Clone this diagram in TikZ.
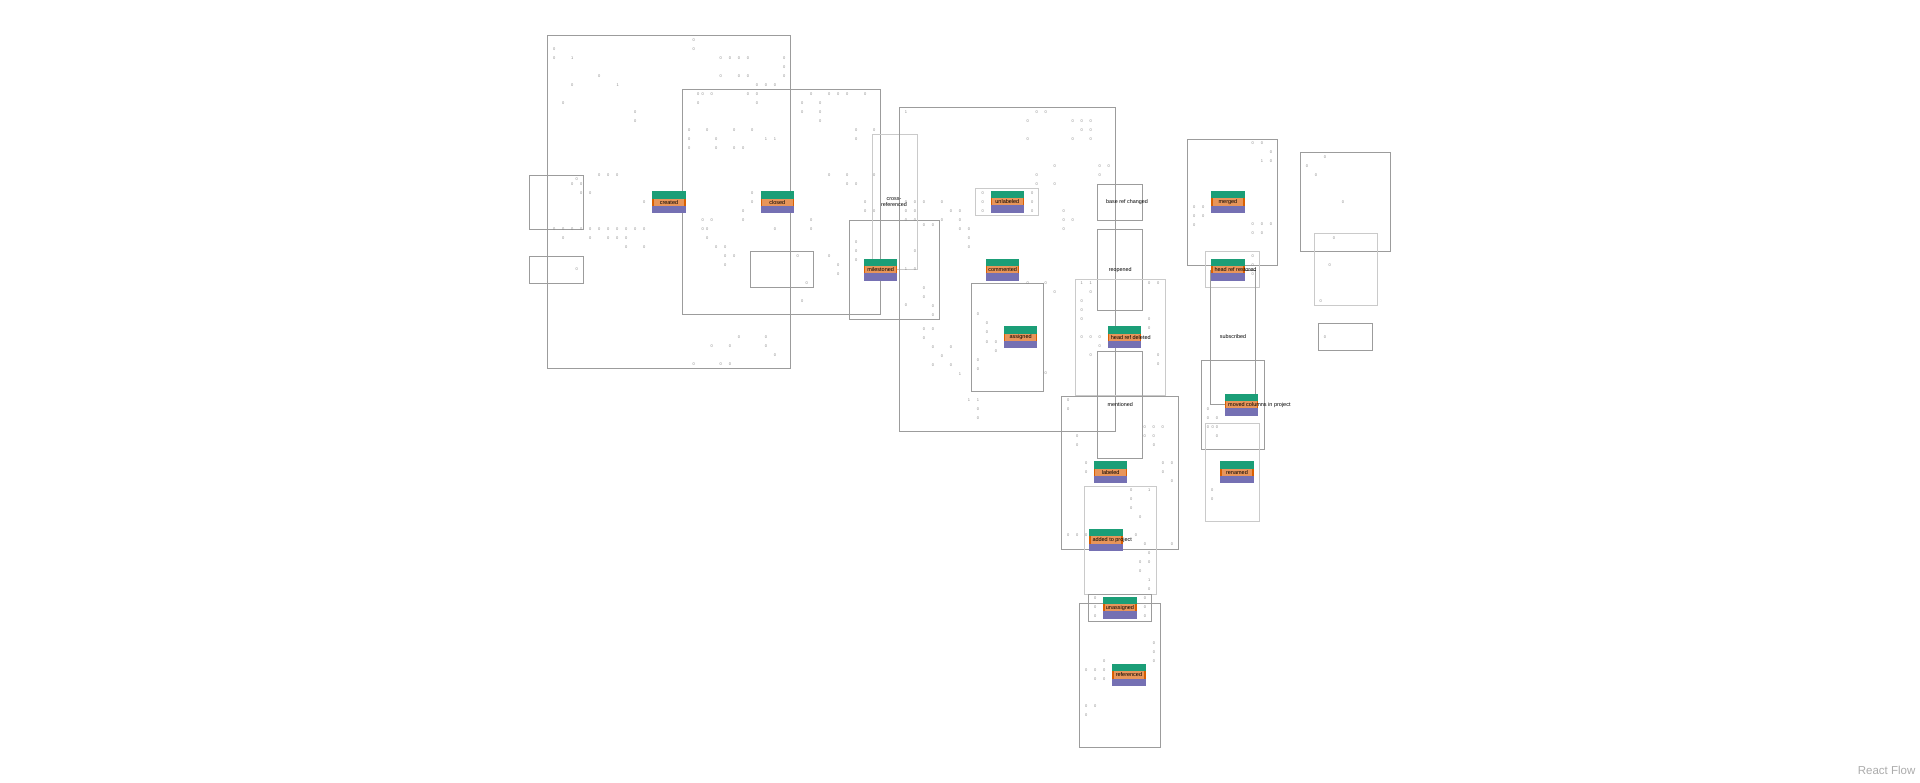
\documentclass[tikz,border=0pt]{standalone}
\usepackage{fontspec}
\setmainfont{Liberation Sans}
\usetikzlibrary{positioning}

\definecolor{evgreen}{HTML}{1B9E77}
\definecolor{evorange}{HTML}{D95F02}
\definecolor{evpeach}{HTML}{E8955A}
\definecolor{evpurple}{HTML}{7570B3}
\definecolor{framedark}{HTML}{9C9C9C}
\definecolor{framelight}{HTML}{CACACA}

% event block: name, left, top, label, extra node options
\newcommand{\evtnode}[5]{%
  \fill[evgreen] (#2,#3) rectangle ++(33.3,7.3);
  \fill[evorange] (#2,#3+7.3) rectangle ++(33.3,7.3);
  \fill[evpeach] (#2+1.3,#3+7.3) rectangle ++(30.7,7.3);
  \fill[evpurple] (#2,#3+14.6) rectangle ++(33.3,7.4);
  \node[evtext,#5] (#1) at (#2+16.65,#3+11) {#4};
}

\begin{document}
\begin{tikzpicture}[x=1pt,y=-1pt,
    frame/.style={draw=framedark,line width=0.8pt},
    framelt/.style={draw=framelight,line width=0.8pt},
    evtext/.style={inner sep=0pt,font=\fontsize{5.5}{5.5}\selectfont},
    overflow/.style={anchor=west,xshift=-13.65pt},
    plain/.style={inner sep=0pt,font=\fontsize{5.4}{5.8}\selectfont,align=center},
    zero/.style={inner sep=0pt,text=gray!90,font=\fontsize{4}{4}\selectfont}]
  \useasboundingbox (0,0) rectangle (1920,783);
  \fill[white] (0,0) rectangle (1920,783);

  % group frames
  \draw[frame] (547.3,35.3) rectangle (790.3,368.3);
  \draw[frame] (682.3,89.3) rectangle (880.7,314.3);
  \draw[frame] (529.3,175.3) rectangle (583.3,229.3);
  \draw[frame] (529.3,256.3) rectangle (583.3,283.3);
  \draw[frame] (750.3,251.3) rectangle (813.3,287.3);
  \draw[frame] (849.3,220.3) rectangle (939.3,319.3);
  \draw[framelt] (872.3,134.3) rectangle (917,269.3);
  \draw[frame] (899.3,107.3) rectangle (1115.3,431.7);
  \draw[framelt] (975.7,188.3) rectangle (1038.3,215.3);
  \draw[frame] (971.3,283) rectangle (1043.3,391.3);
  \draw[frame] (1097.3,184.3) rectangle (1142.3,220);
  \draw[frame] (1097.3,229.3) rectangle (1142.3,310.3);
  \draw[framelt] (1075.3,279) rectangle (1165.3,395.3);
  \draw[frame] (1097.3,351.3) rectangle (1142.3,458.3);
  \draw[frame] (1061.3,396.3) rectangle (1178.3,549.3);
  \draw[framelt] (1084.3,486) rectangle (1156,594);
  \draw[frame] (1088.3,594.3) rectangle (1151.3,621);
  \draw[frame] (1079.3,603.3) rectangle (1160.3,747);
  \draw[frame] (1187.3,139.3) rectangle (1277.3,265);
  \draw[framelt] (1205.3,251.7) rectangle (1259.3,287.3);
  \draw[frame] (1210.3,270) rectangle (1255.7,404);
  \draw[frame] (1201.3,360) rectangle (1264.3,449.3);
  \draw[framelt] (1205.3,423.3) rectangle (1259.3,521.7);
  \draw[frame] (1300.3,152.3) rectangle (1390.3,251);
  \draw[framelt] (1314.3,233.3) rectangle (1377,305);
  \draw[frame] (1318.3,323.7) rectangle (1372.3,350.3);

  % counters
  \foreach \x/\y [count=\i] in {693.7/40,554.3/49.3,693.7/49.3,554.3/58.3,720.7/58.3,730/58.3,739/58.3,748/58.3,784.3/58.3,784.3/67.3,
      599.3/76.3,720.7/76.3,739/76.3,748/76.3,784.3/76.3,572.3/85.3,757/85.3,766/85.3,775/85.3,
      698.3/94,702.7/94,711.7/94,748/94,757/94,811.3/94,829.3/94,838.3/94,847.3/94,865.3/94,
      563.3/103.3,698.3/103.3,757/103.3,802.3/103.3,820.3/103.3,635.3/112.3,802.3/112.3,820.3/112.3,635.3/121.3,820.3/121.3,
      689.3/130.3,707.3/130.3,734.3/130.3,752.3/130.3,856.3/130.3,874.3/130.3,689.3/139.3,716.3/139.3,856.3/139.3,
      689.3/148.3,716.3/148.3,734.3/148.3,743.3/148.3,
      599.3/175.3,608.3/175.3,617.3/175.3,829.3/175.3,847.3/175.3,874.3/175.3,576.7/179.3,
      572.3/184.3,581.3/184.3,847.3/184.3,856.3/184.3,581.3/193.3,590.3/193.3,752.3/193.3,
      644.3/202.3,752.3/202.3,865.3/202.3,906/202.3,915/202.3,743.3/211.3,865.3/211.3,874.3/211.3,906/211.3,915/211.3,
      702.7/220.3,711.7/220.3,743.3/220.3,811.3/220.3,906/220.3,915/220.3,
      554.3/229.3,563.3/229.3,572.3/229.3,581.3/229.3,590.3/229.3,599.3/229.3,608.3/229.3,617.3/229.3,626.3/229.3,635.3/229.3,644.3/229.3,
      702.7/229.3,707.3/229.3,775/229.3,811.3/229.3,
      563.3/238.3,590.3/238.3,608.3/238.3,617.3/238.3,626.3/238.3,707.3/238.3,626.3/247.3,644.3/247.3,716.3/247.3,725.3/247.3,
      856.3/242.3,856.3/251.3,915/251.3,725.3/256.3,734.3/256.3,797.7/256.3,829.3/256.3,856.3/260.3,
      725.3/265.3,838.3/265.3,576.7/269.3,915/269.3,838.3/274.3,806.7/283.3,802.3/301.3,906/305.3,
      739/337.3,766/337.3,711.7/346.3,730/346.3,766/346.3,775/355.3,693.7/364.3,720.7/364.3,730/364.3,
      1036.7/112.3,1045.7/112.3,1027.7/121.3,1072.7/121.3,1081.7/121.3,1090.7/121.3,1081.7/130.3,1090.7/130.3,
      1027.7/139.3,1072.7/139.3,1090.7/139.3,1054.7/166.3,1099.7/166.3,1108.7/166.3,1036.7/175.3,1099.7/175.3,1036.7/184.3,1054.7/184.3,
      982.7/193.3,982.7/202.3,982.7/211.3,1032.3/193.3,1032.3/202.3,1032.3/211.3,
      924/202.3,942/202.3,951/211.3,960/211.3,1063.7/211.3,942/220.3,960/220.3,1063.7/220.3,1072.7/220.3,
      924/224.7,933/224.7,960/229.3,969/229.3,1063.7/229.3,969/238.3,969/247.3,
      1027.7/283.3,1045.7/283.3,1054.7/292.3,924/287.7,924/296.7,933/305.7,933/314.7,924/328.7,933/328.7,924/337.7,
      933/346.7,951/346.7,942/355.7,933/364.7,951/364.7,
      978/314.3,987/323.3,987/332.3,987/342,996/342,996/351,978/360,978/369,1045.7/373.3,978/409.3,978/418.3,
      1149.3/283.3,1158.3/283.3,1090.7/292.3,1081.7/301.3,1081.7/310.3,1081.7/319.3,1149.3/319.3,1149.3/328.3,
      1081.7/337.3,1090.7/337.3,1099.7/337.3,1099.7/346.3,1090.7/355.3,1158.3/355.3,1158.3/364.3,
      1068.3/400.3,1068.3/409.3,1144.7/427.3,1153.7/427.3,1162.7/427.3,1144.7/436.3,1153.7/436.3,1077.3/436.3,
      1194.3/206.7,1203.3/206.7,1194.3/215.7,1203.3/215.7,1194.3/224.7,
      1077.3/445.3,1154/445.3,1086.3/463.3,1086.3/472.3,1163/463.3,1172/463.3,1163/472.3,1172/481.3,
      1131.3/490.3,1131.3/499.3,1131.3/508.3,1140.3/517.3,1136/535.3,1068.3/535.3,1077.3/535.3,1086.3/535.3,
      1145/544.3,1172/544.3,1149.3/553.3,1140.3/562.3,1149.3/562.3,1140.3/571.3,1149.3/589.3,
      1095.3/598.3,1095.3/607.3,1095.3/616.3,1145/598.3,1145/607.3,1145/616.3,
      1154/643.3,1154/652.3,1154/661.3,1104.3/661.3,1086.3/670.3,1095.3/670.3,1104.3/670.3,1095.3/679.3,1104.3/679.3,
      1086.3/706.3,1095.3/706.3,1086.3/715.3,
      1208/409.3,1208/418.3,1217/418.3,1208/427.3,1212.7/427.3,1217/427.3,1217/436.3,1212.3/490.3,1212.3/499.3,
      1252.7/143.3,1262/143.3,1271/152.3,1271/161.3,1252.7/224,1262/224,1271/224,1252.7/233,1262/233,
      1252.7/256.3,1252.7/265.3,1252.7/274.3,
      1325/157.3,1307/166.3,1316/175.3,1343/202.3,1334/238,1329.7/265.3,1320.7/301.3,1325/337.3}
    \node[zero] (z\i) at (\x,\y) {0};
  \foreach \x/\y [count=\i] in {572.3/58.3,617.7/85.3,766/139.3,775/139.3,906/112.3,906/269.3,960/373.7,
      969/400.3,978/400.3,1081.7/283.3,1090.7/283.3,1149.3/490.3,1149.3/580.3,1262/161.3}
    \node[zero] (n\i) at (\x,\y) {1};

  % event blocks
  \evtnode{created}{652.3}{191.3}{created}{}
  \evtnode{closed}{760.7}{191.3}{closed}{}
  \evtnode{milestoned}{864}{258.7}{milestoned}{}
  \evtnode{unlabeled}{990.7}{190.7}{unlabeled}{}
  \evtnode{commented}{986}{258.7}{commented}{}
  \evtnode{assigned}{1004}{326.3}{assigned}{}
  \evtnode{headrefdeleted}{1107.7}{326.3}{head ref deleted}{overflow}
  \evtnode{merged}{1211.3}{191}{merged}{}
  \evtnode{headrefrestored}{1211.3}{258.7}{head ref restored}{overflow}
  \evtnode{movedcolumns}{1225}{393.7}{moved columns in project}{overflow}
  \evtnode{renamed}{1220.3}{461.3}{renamed}{}
  \evtnode{labeled}{1094}{461.3}{labeled}{}
  \evtnode{addedtoproject}{1089.3}{529}{added to project}{overflow}
  \evtnode{unassigned}{1103.3}{596.7}{unassigned}{}
  \evtnode{referenced}{1112.3}{664}{referenced}{}

  % plain labels
  \node[plain] (crossref) at (894,201.7) {cross-\\referenced};
  \node[plain] (baseref) at (1127,202.3) {base ref changed};
  \node[plain] (reopened) at (1120.2,270) {reopened};
  \node[plain] (mentioned) at (1120.2,405) {mentioned};
  \node[plain] (subscribed) at (1233,337) {subscribed};

  \node[anchor=base east,inner sep=0pt,text=gray!65,font=\fontsize{11.5}{12}\selectfont] (rflow) at (1915.5,774.5) {React Flow};
\end{tikzpicture}
\end{document}
